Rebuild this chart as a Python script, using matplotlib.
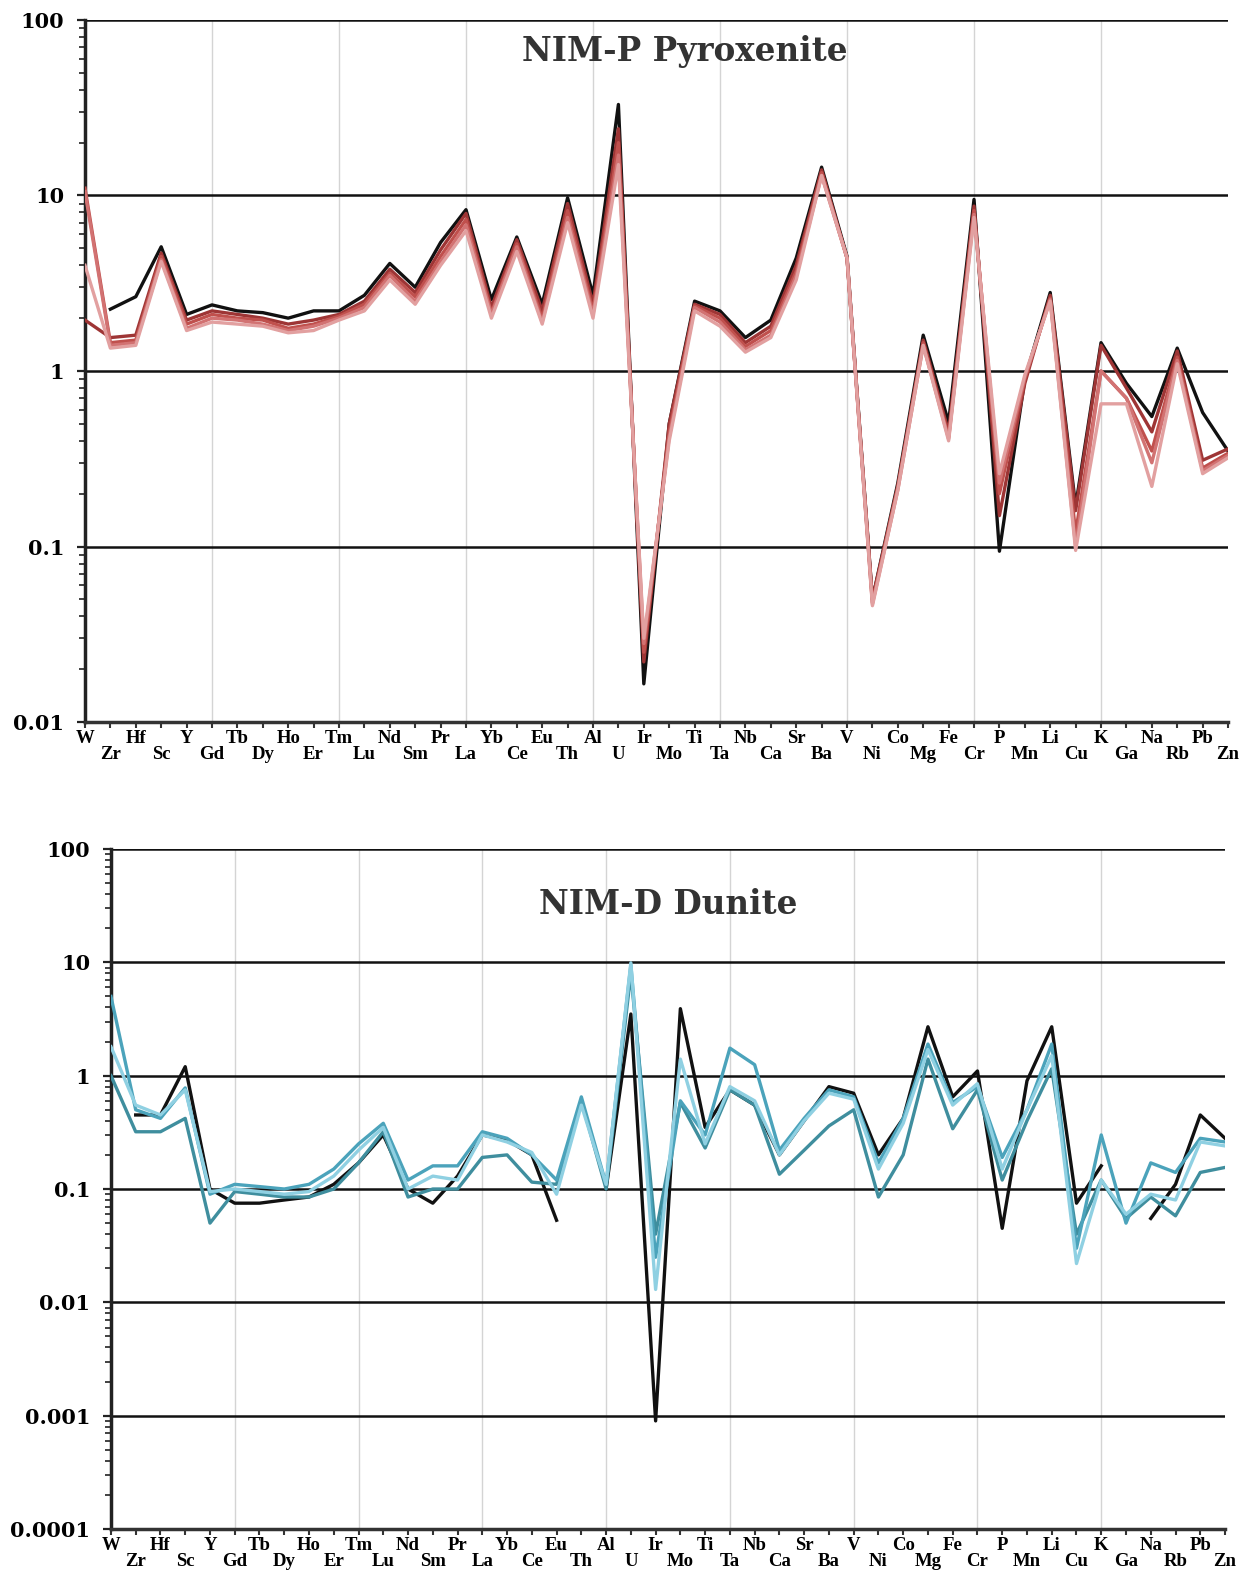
import numpy as np
import matplotlib
matplotlib.use("Agg")
import matplotlib.pyplot as plt
from matplotlib.ticker import LogLocator, NullFormatter, FixedLocator

nan = np.nan

# Element order on the x axis
elements = ["W", "Zr", "Hf", "Sc", "Y", "Gd", "Tb", "Dy", "Ho", "Er", "Tm", "Lu", "Nd", "Sm",
            "Pr", "La", "Yb", "Ce", "Eu", "Th", "Al", "U", "Ir", "Mo", "Ti", "Ta", "Nb", "Ca",
            "Sr", "Ba", "V", "Ni", "Co", "Mg", "Fe", "Cr", "P", "Mn", "Li", "Cu", "K", "Ga",
            "Na", "Rb", "Pb", "Zn"]

# NIM-P Pyroxenite (normalised values)
pyx_black = [nan, 2.25, 2.65, 5.1, 2.1, 2.38, 2.2, 2.15, 2.0, 2.2, 2.2, 2.7, 4.1, 3.0, 5.4, 8.3,
             2.55, 5.8, 2.4, 9.7, 2.7, 33, 0.0165, 0.5, 2.5, 2.2, 1.55, 1.95, 4.4, 14.5, 4.5,
             0.05, 0.23, 1.6, 0.51, 9.5, 0.094, 0.9, 2.8, 0.17, 1.45, 0.85, 0.55, 1.35, 0.58, 0.35]
pyx_r1 = [1.95, 1.55, 1.6, 4.7, 1.95, 2.2, 2.1, 2.0, 1.85, 1.95, 2.1, 2.5, 3.8, 2.8, 4.9, 7.9,
          2.3, 5.6, 2.2, 9.0, 2.4, 24, 0.022, 0.5, 2.4, 2.1, 1.45, 1.8, 4.0, 14, 4.4,
          0.05, 0.22, 1.5, 0.45, 8.7, 0.15, 0.85, 2.7, 0.16, 1.4, 0.8, 0.45, 1.3, 0.31, 0.36]
pyx_r2 = [11, 1.45, 1.5, 4.5, 1.85, 2.1, 2.0, 1.95, 1.75, 1.85, 2.05, 2.4, 3.6, 2.65, 4.5, 7.3,
          2.15, 5.3, 2.0, 8.2, 2.2, 20, 0.025, 0.45, 2.35, 2.0, 1.38, 1.7, 3.7, 13.5, 4.4,
          0.048, 0.22, 1.45, 0.42, 8.2, 0.2, 0.9, 2.6, 0.12, 1.0, 0.7, 0.35, 1.2, 0.28, 0.34]
pyx_r3 = [10.5, 1.4, 1.45, 4.3, 1.75, 2.0, 1.95, 1.85, 1.7, 1.8, 2.0, 2.3, 3.5, 2.5, 4.2, 6.8,
          2.1, 5.1, 1.9, 7.5, 2.1, 17, 0.028, 0.42, 2.3, 1.9, 1.32, 1.6, 3.5, 13, 4.4,
          0.047, 0.21, 1.4, 0.41, 7.8, 0.23, 0.92, 2.55, 0.1, 1.0, 0.7, 0.3, 1.15, 0.27, 0.33]
pyx_r4 = [4.0, 1.35, 1.4, 4.2, 1.7, 1.9, 1.85, 1.8, 1.65, 1.7, 1.95, 2.2, 3.3, 2.4, 4.0, 6.3,
          2.0, 4.8, 1.85, 7.0, 2.0, 15, 0.03, 0.4, 2.2, 1.8, 1.28, 1.55, 3.3, 13, 4.4,
          0.046, 0.21, 1.4, 0.4, 7.5, 0.26, 0.95, 2.5, 0.095, 0.65, 0.65, 0.22, 1.1, 0.26, 0.32]

# NIM-D Dunite (normalised values)
dun_black = [nan, 0.45, 0.45, 1.2, 0.1, 0.075, 0.075, 0.08, 0.085, 0.11, 0.17, 0.3, 0.1, 0.075,
             0.13, 0.3, 0.27, 0.2, 0.053, nan, 0.1, 3.5, 0.0009, 3.9, 0.35, 0.75, 0.55, 0.2,
             0.4, 0.8, 0.7, 0.2, 0.42, 2.7, 0.65, 1.1, 0.045, 0.9, 2.7, 0.075, 0.16, nan,
             0.055, 0.11, 0.45, 0.28]
dun_t1 = [5.0, 0.5, 0.42, 0.78, 0.09, 0.11, 0.105, 0.1, 0.11, 0.15, 0.25, 0.38, 0.12, 0.16,
          0.16, 0.32, 0.28, 0.2, 0.12, 0.65, 0.11, 9.5, 0.025, 0.6, 0.3, 1.75, 1.25, 0.22,
          0.42, 0.75, 0.65, 0.17, 0.42, 1.9, 0.58, 0.8, 0.19, 0.5, 1.9, 0.03, 0.3, 0.05,
          0.17, 0.14, 0.28, 0.26]
dun_t2 = [1.8, 0.55, 0.45, 0.75, 0.095, 0.1, 0.095, 0.09, 0.095, 0.13, 0.22, 0.35, 0.1, 0.13,
          0.12, 0.3, 0.26, 0.21, 0.09, 0.55, 0.11, 9.9, 0.013, 1.4, 0.25, 0.8, 0.6, 0.2,
          0.4, 0.7, 0.62, 0.15, 0.38, 1.7, 0.55, 0.85, 0.15, 0.5, 1.5, 0.022, 0.12, 0.06,
          0.09, 0.08, 0.26, 0.24]
dun_t3 = [1.0, 0.32, 0.32, 0.42, 0.05, 0.095, 0.09, 0.085, 0.085, 0.1, 0.17, 0.32, 0.085, 0.1,
          0.1, 0.19, 0.2, 0.115, 0.11, 0.6, 0.1, 8.0, 0.04, 0.58, 0.23, 0.75, 0.55, 0.135,
          0.22, 0.36, 0.5, 0.085, 0.2, 1.4, 0.34, 0.75, 0.12, 0.4, 1.15, 0.04, 0.12, 0.055,
          0.085, 0.058, 0.14, 0.155]

x = np.arange(len(elements))

plt.rcParams["font.family"] = ["DejaVu Serif"]

fig = plt.figure(figsize=(12.48, 15.71), dpi=100)
ax1 = fig.add_axes([0.0681, 0.5404, 0.9159, 0.4469])
ax2 = fig.add_axes([0.0889, 0.0267, 0.8927, 0.4329])


def style_axis(ax, ymin, ylabels):
    ax.set_yscale("log")
    ax.set_ylim(ymin, 100)
    ax.set_xlim(0, len(elements) - 1)
    for s in ["top", "right"]:
        ax.spines[s].set_visible(False)
    ax.spines["left"].set_linewidth(2.5)
    ax.spines["left"].set_color("#222222")
    ax.spines["bottom"].set_linewidth(2.5)
    ax.spines["bottom"].set_color("#333333")

    # y axis: decades with labels + minor ticks
    decades = [10.0 ** k for k in range(int(np.log10(ymin)), 3)]
    ax.yaxis.set_major_locator(FixedLocator(decades))
    ax.set_yticklabels(ylabels)
    ax.yaxis.set_minor_locator(LogLocator(base=10, subs=np.arange(2, 10)))
    ax.yaxis.set_minor_formatter(NullFormatter())
    ax.tick_params(axis="y", which="major", length=6, width=1.6, pad=9,
                   labelsize=15, color="#222222")
    ax.tick_params(axis="y", which="minor", length=4, width=1.3, color="#333333")
    for lab in ax.get_yticklabels():
        lab.set_fontweight("bold")
    ax.grid(axis="y", which="major", color="#111111", linewidth=1.8)
    ax.set_axisbelow(True)

    # x axis: alternating two rows of labels
    ax.set_xticks(x[::2])
    ax.set_xticklabels(elements[::2], fontsize=13.5, fontweight="bold",
                       family=["Liberation Serif"])
    ax.set_xticks(x[1::2], minor=True)
    ax.set_xticklabels(elements[1::2], minor=True, fontsize=13.5, fontweight="bold",
                       family=["Liberation Serif"])
    ax.tick_params(axis="x", which="major", length=4, width=1.5, pad=2, color="#333333")
    ax.tick_params(axis="x", which="minor", length=4, width=1.5, pad=13, color="#333333")

    for gx in range(5, len(elements) - 1, 5):
        ax.axvline(gx, color="#d4d4d4", linewidth=1.0, zorder=0)


style_axis(ax1, 0.01, ["0.01", "0.1", "1", "10", "100"])
style_axis(ax2, 0.0001, ["0.0001", "0.001", "0.01", "0.1", "1", "10", "100"])

# Pyroxenite lines
ax1.plot(x, pyx_black, color="#111111", linewidth=2.4, zorder=3)
ax1.plot(x, pyx_r1, color="#9e3535", linewidth=2.4, zorder=3)
ax1.plot(x, pyx_r2, color="#c0504d", linewidth=2.4, zorder=3)
ax1.plot(x, pyx_r3, color="#d27272", linewidth=2.4, zorder=3)
ax1.plot(x, pyx_r4, color="#e2a0a0", linewidth=2.4, zorder=3)
ax1.text(0.525, 0.955, "NIM-P Pyroxenite", transform=ax1.transAxes, ha="center", va="center",
         fontsize=23.5, fontweight="bold", color="#333333")

# Dunite lines
ax2.plot(x, dun_black, color="#111111", linewidth=2.4, zorder=3)
ax2.plot(x, dun_t3, color="#3f8e9e", linewidth=2.4, zorder=3)
ax2.plot(x, dun_t1, color="#4ba3bb", linewidth=2.4, zorder=3)
ax2.plot(x, dun_t2, color="#8fd0e2", linewidth=2.4, zorder=3)
ax2.text(0.5, 0.918, "NIM-D Dunite", transform=ax2.transAxes, ha="center", va="center",
         fontsize=23.5, fontweight="bold", color="#333333")

fig.savefig("out.png", dpi=100, facecolor="white")
